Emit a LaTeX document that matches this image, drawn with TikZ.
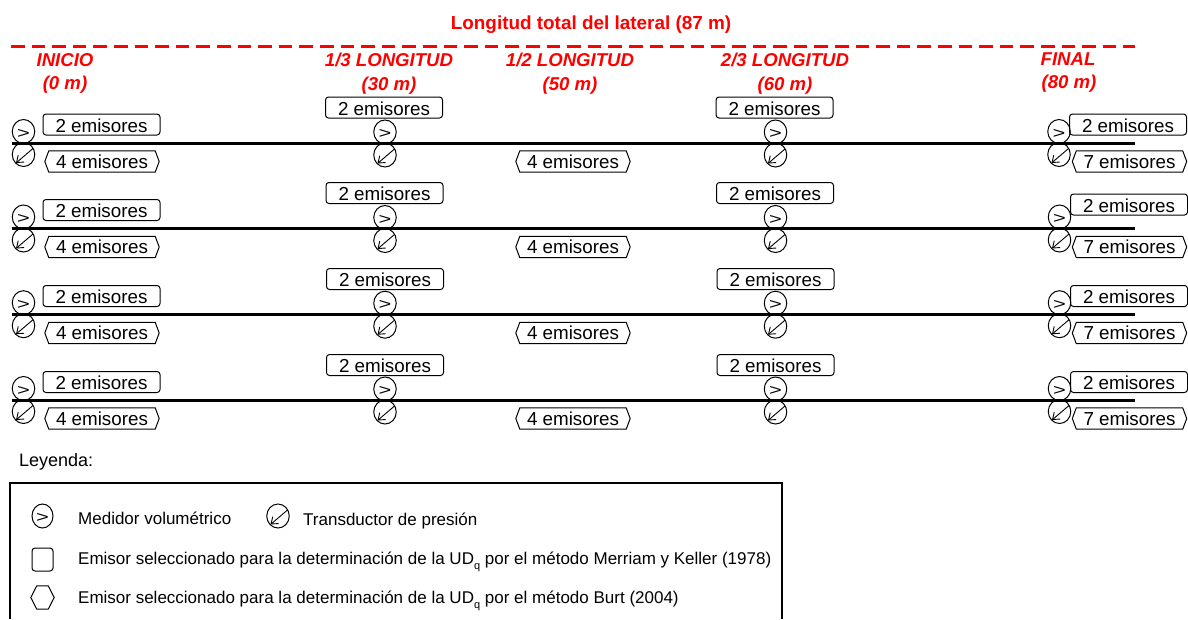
\documentclass[tikz,border=0pt]{standalone}
\usepackage{fontspec}
\setmainfont{Liberation Sans}
\usetikzlibrary{arrows.meta,shapes.geometric}
\definecolor{headred}{RGB}{255,0,0}
\tikzset{
  sym/.style={draw=black,line width=1pt,inner sep=0pt},
  emisorbox/.style={sym,rounded corners=3pt,minimum width=117pt,minimum height=21pt,
    text height=15pt,text depth=0pt,font=\fontsize{18.8}{20}\selectfont},
  hexbase/.style={inner sep=0pt,minimum width=114pt,minimum height=21pt,
    text height=13.5pt,text depth=0pt,font=\fontsize{18.8}{20}\selectfont},
  hexline/.style={draw=black,line width=1pt},
  meter/.style={sym,ellipse,minimum width=22.5pt,minimum height=24pt,font=\fontsize{19}{20}\selectfont},
  transducer/.style={sym,ellipse,minimum width=22.5pt,minimum height=24pt},
  tarrow/.style={line width=0.9pt,-{Straight Barb[length=6pt,width=9pt]}},
  lateral/.style={line width=3pt},
  head/.style={text=headred,anchor=base,inner sep=0pt,font=\fontsize{18.6}{20}\selectfont\bfseries\itshape},
  legtext/.style={anchor=base west,inner sep=0pt,font=\fontsize{17}{19}\selectfont},
}
\newcommand{\gt}{\raisebox{-6.5pt}[0pt][0pt]{\scalebox{1.15}[0.82]{>}}}
\newcommand{\subq}{\raisebox{-5pt}{\fontsize{11}{12}\selectfont q}}
\newcommand{\hexat}[3]{%
  \node[hexbase] (#1) at (#2) {#3 emisores};
  \draw[hexline] ([xshift=4pt]#1.north west) -- ([xshift=-4pt]#1.north east) -- (#1.east)
    -- ([xshift=-4pt]#1.south east) -- ([xshift=4pt]#1.south west) -- (#1.west) -- cycle;
}
\newcommand{\transat}[2]{%
  \node[transducer] (#1) at (#2) {};
  \draw[tarrow] ([shift={(9.5pt,6pt)}]#1.center) -- ([shift={(-7.5pt,-8.5pt)}]#1.center);
}
\begin{document}
\begin{tikzpicture}[x=1pt,y=-1pt]
\useasboundingbox (0,0) rectangle (1188,619);
\node[text=headred,anchor=base,inner sep=0pt,font=\fontsize{18.9}{20}\selectfont\bfseries] (title) at (591,29) {Longitud total del lateral (87 m)};
\coordinate (ds) at (11,46);
\coordinate (de) at (1135,46);
\draw[headred,line width=3pt,dash pattern=on 13.5pt off 7.1pt] (ds) -- (de);
\node[head] (h1a) at (65,66) {INICIO};
\node[head] (h1b) at (65,89) {(0 m)};
\node[head] (h2a) at (389,66.5) {1/3 LONGITUD};
\node[head] (h2b) at (389,90) {(30 m)};
\node[head] (h3a) at (570,66.5) {1/2 LONGITUD};
\node[head] (h3b) at (570,90) {(50 m)};
\node[head] (h4a) at (785,66.5) {2/3 LONGITUD};
\node[head] (h4b) at (785,90) {(60 m)};
\node[head] (h5a) at (1068,65) {FINAL};
\node[head] (h5b) at (1069,88) {(80 m)};
% rows: index / lateral y / left box y / upper box y / 1/3 box x / 2/3 box x / final box y / final box x / hex y / final meter x
\foreach \r/\ly/\lb/\ub/\ax/\bx/\fb/\fx/\hy/\mx in {
  1/143/124.5/107.5/384/774.5/124.5/1128/161.5/1059,
  2/228.5/210/193/384.5/775/204.5/1129/247/1059.5,
  3/314.2/296/279/385/775.5/296/1129/333/1059.5,
  4/400/382/365/385/775.5/382/1129/418.5/1059.5}{
  \coordinate (ls\r) at (11.5,\ly);
  \coordinate (le\r) at (1135,\ly);
  \draw[lateral] (ls\r) -- (le\r);
  \node[meter] (m1\r) at (23.5,\ly-11.5) {\gt};
  \transat{t1\r}{23.5,\ly+11.5}
  \node[emisorbox] (b1\r) at (101.5,\lb) {2 emisores};
  \hexat{x1\r}{102,\hy}{4}
  \node[emisorbox] (b2\r) at (\ax,\ub) {2 emisores};
  \node[meter] (m2\r) at (385,\ly-11) {\gt};
  \transat{t2\r}{385,\ly+12}
  \hexat{x3\r}{573,\hy}{4}
  \node[emisorbox] (b4\r) at (\bx,\ub) {2 emisores};
  \node[meter] (m4\r) at (775.5,\ly-11) {\gt};
  \transat{t4\r}{775.5,\ly+12}
  \node[meter] (m5\r) at (\mx,\ly-11.5) {\gt};
  \transat{t5\r}{\mx,\ly+11.5}
  \node[emisorbox] (b5\r) at (\fx,\fb) {2 emisores};
  \hexat{x5\r}{1129.5,\hy}{7}
}
% legend
\node[anchor=base west,inner sep=0pt,font=\fontsize{18}{20}\selectfont] (leg) at (19,466.5) {Leyenda:};
\coordinate (fa) at (10,619);
\coordinate (fb) at (10,483);
\coordinate (fc) at (782,483);
\coordinate (fd) at (782,619);
\draw[line width=2pt,line join=miter] (fa) -- (fb) -- (fc) -- (fd);
\node[sym,ellipse,minimum width=21pt,minimum height=24pt,font=\fontsize{19}{20}\selectfont] (lm) at (42.5,516) {\gt};
\transat{lt}{278,516}
\node[legtext] (lmt) at (78,524) {Medidor volumétrico};
\node[legtext] (ltt) at (303,525) {Transductor de presión};
\node[sym,rounded corners=3pt,minimum width=21pt,minimum height=23pt] (lb) at (42.5,559.5) {};
\node[legtext] (lbt) at (78,564) {Emisor seleccionado para la determinación de la UD\subq{} por el método Merriam y Keller (1978)};
\node[inner sep=0pt,minimum width=23pt,minimum height=23pt] (lh) at (42.5,597.5) {};
\draw[hexline] ([xshift=6pt]lh.north west) -- ([xshift=-6pt]lh.north east) -- (lh.east)
  -- ([xshift=-6pt]lh.south east) -- ([xshift=6pt]lh.south west) -- (lh.west) -- cycle;
\node[legtext] (lht) at (78,603) {Emisor seleccionado para la determinación de la UD\subq{} por el método Burt (2004)};
\end{tikzpicture}
\end{document}
